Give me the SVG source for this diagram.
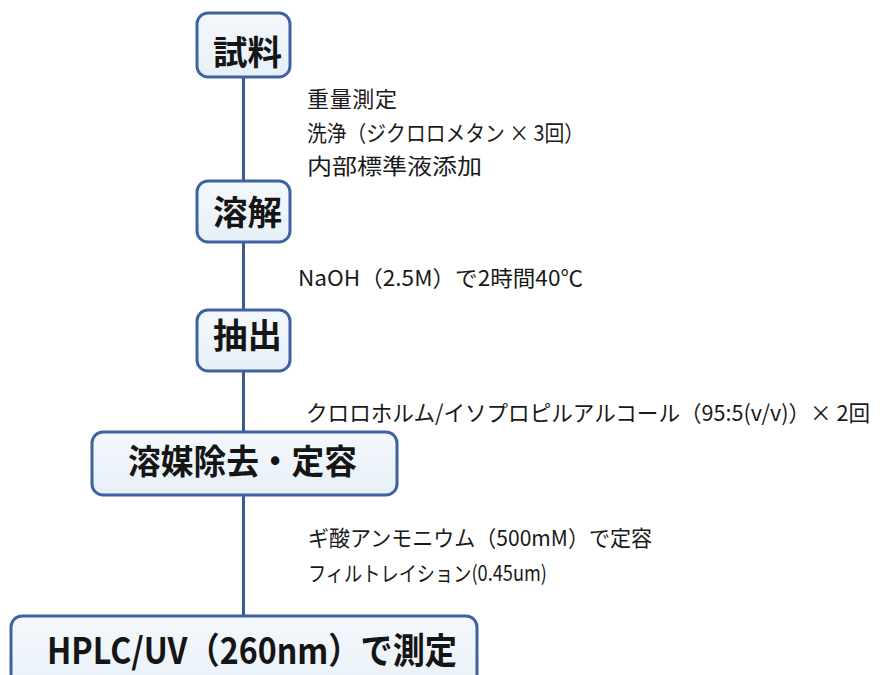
<svg xmlns="http://www.w3.org/2000/svg" width="883" height="675" viewBox="0 0 883 675">
<defs>
<linearGradient id="boxfill" x1="0" y1="0" x2="0" y2="1">
<stop offset="0" stop-color="#f4f8fc"/>
<stop offset="1" stop-color="#e6f0f8"/>
</linearGradient>
</defs>
<style>
.box{fill:url(#boxfill);stroke:#3f62a0;stroke-width:3}
.title{font-family:"Noto Sans CJK JP","Noto Sans",sans-serif;font-weight:bold;fill:#151515}
.note{font-family:"Noto Sans CJK JP","Noto Sans",sans-serif;font-size:22px;fill:#1a1a1a}
.conn{stroke:#3a5a94;stroke-width:3;fill:none}
</style>
<rect width="883" height="675" fill="#ffffff"/>
<g id="connectors">
<line class="conn" x1="243.5" y1="77" x2="243.5" y2="181"/>
<line class="conn" x1="243.5" y1="242" x2="243.5" y2="310"/>
<line class="conn" x1="243.5" y1="371" x2="243.5" y2="432"/>
<line class="conn" x1="243.5" y1="495" x2="243.5" y2="616"/>
</g>
<g id="node-shiryo">
<rect class="box" x="197" y="13" width="93" height="64" rx="11"/>
<text class="title" x="213" y="65" font-size="34" textLength="69" lengthAdjust="spacingAndGlyphs">試料</text>
</g>
<g id="note-1">
<text class="note" x="307" y="107" textLength="90" lengthAdjust="spacing">重量測定</text>
<text class="note" x="307" y="141" textLength="277" lengthAdjust="spacingAndGlyphs">洗浄（ジクロロメタン × 3回）</text>
<text class="note" x="307" y="174" textLength="175" lengthAdjust="spacingAndGlyphs">内部標準液添加</text>
</g>
<g id="node-youkai">
<rect class="box" x="197" y="181" width="93" height="61" rx="11"/>
<text class="title" x="213" y="225" font-size="34" textLength="69" lengthAdjust="spacingAndGlyphs">溶解</text>
</g>
<g id="note-2">
<text class="note" x="298" y="286" textLength="285" lengthAdjust="spacingAndGlyphs">NaOH（2.5M）で2時間40℃</text>
</g>
<g id="node-chushutsu">
<rect class="box" x="197" y="310" width="93" height="61" rx="11"/>
<text class="title" x="213" y="348" font-size="34" textLength="69" lengthAdjust="spacingAndGlyphs">抽出</text>
</g>
<g id="note-3">
<text class="note" x="306" y="421" textLength="564" lengthAdjust="spacingAndGlyphs">クロロホルム/イソプロピルアルコール（95:5(v/v)）× 2回</text>
</g>
<g id="node-jokyo">
<rect class="box" x="92" y="432" width="305" height="63" rx="11"/>
<text class="title" x="128" y="474" font-size="34" textLength="229" lengthAdjust="spacingAndGlyphs">溶媒除去・定容</text>
</g>
<g id="note-4">
<text class="note" x="308" y="546" textLength="344" lengthAdjust="spacingAndGlyphs">ギ酸アンモニウム（500mM）で定容</text>
<text class="note" x="308" y="581" textLength="239" lengthAdjust="spacingAndGlyphs" style="font-size:21px">フィルトレイション(0.45um)</text>
</g>
<g id="node-hplc">
<rect class="box" x="11" y="616" width="466" height="90" rx="11"/>
<text class="title" x="47" y="664" font-size="36" textLength="410" lengthAdjust="spacingAndGlyphs">HPLC/UV（260nm）で測定</text>
</g>
</svg>
